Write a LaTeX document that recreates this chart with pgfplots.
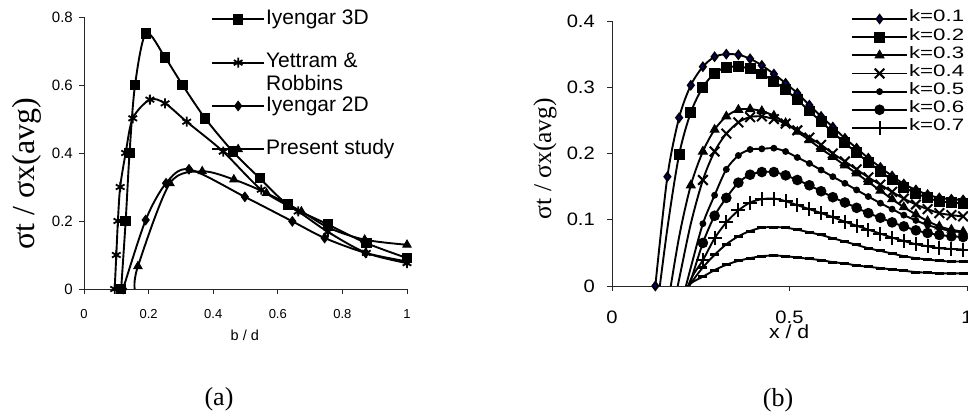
\documentclass[border=0pt]{standalone}
\usepackage{fontspec}
\usepackage{pgfplots}
\pgfplotsset{compat=1.18}
\setmainfont{Liberation Sans}
\newfontfamily\sansw[FakeStretch=1.12]{Liberation Sans}
\newfontfamily\sanswl[FakeStretch=1.35]{Liberation Sans}
\newfontfamily\seriff{Liberation Serif}
\definecolor{navyd}{RGB}{0,0,128}
\pgfplotsset{
  basestyle/.style={
    scale only axis, clip=true,
    axis x line*=bottom, axis y line*=left,
    tick align=outside, major tick length=5pt,
    axis line style={line width=0.8pt, black!85},
    tick style={line width=0.8pt, black!85},
    /pgf/number format/assume math mode=true,
  },
}
\begin{document}
\begin{tikzpicture}[x=1pt,y=1pt]
\useasboundingbox (0,0) rectangle (968,417);
% ---------------- panel (a)
\begin{axis}[basestyle,
  at={(84pt,128pt)}, anchor=south west, width=323pt, height=272pt,
  xmin=0, xmax=1, ymin=0, ymax=0.8,
  xtick={0,0.2,0.4,0.6,0.8,1}, xticklabels={0,0.2,0.4,0.6,0.8,1},
  ytick={0,0.2,0.4,0.6,0.8}, yticklabels={0,0.2,0.4,0.6,0.8},
  xticklabel style={font=\fontsize{13}{13}\selectfont, anchor=center, inner sep=0pt, yshift=-20pt},
  yticklabel style={font=\fontsize{15}{15}\selectfont, anchor=east, inner sep=0pt, xshift=-6pt},
  xlabel={b / d}, xlabel style={font=\fontsize{14.5}{14.5}\selectfont, at={(axis description cs:0.498,-0.169)}, anchor=center, inner sep=0pt},
  ylabel={σt / σx(avg)}, ylabel style={font=\seriff\fontsize{32}{32}\selectfont, at={(axis description cs:-0.176,0.423)}, anchor=center, inner sep=0pt},
  every axis plot/.append style={smooth, black, line width=1.9pt, mark options={solid, fill=black, line width=1pt}},
  legend style={draw=none, fill=none, at={(rel axis cs:0.3932,1.0276)}, anchor=north west, row sep=0pt, inner sep=0pt,
    nodes={inner xsep=1pt, inner ysep=0pt, text height=15pt, text depth=28.3pt, font=\fontsize{21}{23}\selectfont}},
  legend cell align=left,
  legend image code/.code={\draw[#1, mark repeat=2, mark phase=2, yshift=12pt] plot coordinates {(0pt,0pt) (26pt,0pt) (52pt,0pt)};},
]
\addplot[mark=square*, mark size=4.7pt] coordinates {
(0.115,0) (0.129,0.2) (0.141,0.4) (0.158,0.6) (0.192,0.752) (0.251,0.681) (0.305,0.6) (0.375,0.502) (0.461,0.404) (0.544,0.326) (0.632,0.248) (0.755,0.19) (0.874,0.135) (1.0,0.091)};
\addlegendentry{Iyengar 3D}
\addplot[mark=asterisk, mark size=5pt, mark options={line width=1.8pt}] coordinates {
(0.095,0) (0.1,0.1) (0.105,0.2) (0.112,0.3) (0.129,0.4) (0.151,0.502) (0.204,0.557) (0.251,0.546) (0.318,0.492) (0.431,0.404) (0.549,0.292) (0.663,0.228) (0.755,0.168) (0.874,0.106) (1.0,0.076)};
\addlegendentry{\begin{tabular}[t]{@{}l@{}}Yettram \&\\Robbins\end{tabular}}
\addplot[mark=diamond*, mark size=4.7pt] coordinates {
(0.121,0) (0.191,0.203) (0.254,0.311) (0.325,0.352) (0.498,0.271) (0.645,0.199) (0.745,0.15) (0.872,0.106) (1.0,0.081)};
\addlegendentry{Iyengar 2D}
\addplot[mark=triangle*, mark size=4.7pt, mark repeat=1, mark phase=2] coordinates {
(0.157,0) (0.167,0.067) (0.266,0.311) (0.366,0.346) (0.464,0.322) (0.565,0.282) (0.673,0.228) (0.76,0.179) (0.869,0.145) (1.0,0.13)};
\addlegendentry{Present study}
\end{axis}
% ---------------- panel (b)
\begin{axis}[basestyle,
  at={(612pt,131pt)}, anchor=south west, width=355pt, height=265pt,
  xmin=0, xmax=1, ymin=0, ymax=0.4,
  xtick={0,0.5,1}, xticklabels={0,0.5,1},
  ytick={0,0.1,0.2,0.3,0.4}, yticklabels={0,0.1,0.2,0.3,0.4},
  xticklabel style={font=\sansw\fontsize{18}{18}\selectfont, anchor=center, inner sep=0pt, yshift=-26pt},
  yticklabel style={font=\sansw\fontsize{18}{18}\selectfont, anchor=east, inner sep=0pt, xshift=-12pt},
  xlabel={x / d}, xlabel style={font=\sansw\fontsize{19}{19}\selectfont, at={(axis description cs:0.499,-0.174)}, anchor=center, inner sep=0pt},
  ylabel={σt / σx(avg)}, ylabel style={font=\seriff\fontsize{25.5}{25.5}\selectfont, at={(axis description cs:-0.189,0.481)}, anchor=center, inner sep=0pt},
  every axis plot/.append style={smooth, black, line width=1.9pt, mark options={solid, fill=black, line width=1pt}},
  legend style={draw=none, fill=none, at={(rel axis cs:0.673,1.0425)}, anchor=north west, row sep=0pt, inner sep=0pt,
    nodes={inner xsep=1pt, inner ysep=0pt, text height=12pt, text depth=6.15pt, font=\sanswl\fontsize{16.5}{16.5}\selectfont}},
  legend cell align=left,
  legend image code/.code={\draw[#1, mark repeat=2, mark phase=2] plot coordinates {(0pt,0pt) (27.5pt,0pt) (55pt,0pt)};},
]
\addplot[mark=diamond*, mark size=4pt, mark options={fill=navyd, draw=black}] coordinates {
(0.122,0) (0.156,0.165) (0.189,0.254) (0.222,0.303) (0.256,0.331) (0.289,0.346) (0.322,0.350) (0.356,0.349) (0.389,0.343) (0.422,0.333) (0.456,0.320) (0.489,0.306) (0.522,0.291) (0.556,0.273) (0.589,0.256) (0.622,0.240) (0.656,0.223) (0.689,0.208) (0.722,0.193) (0.756,0.179) (0.789,0.166) (0.822,0.154) (0.856,0.145) (0.889,0.138) (0.922,0.133) (0.956,0.131) (0.989,0.130)};
\addlegendentry{k=0.1}
\addplot[mark=square*, mark size=4.9pt, mark repeat=1, mark phase=2] coordinates {
(0.122,-0.054) (0.156,0.087) (0.189,0.198) (0.222,0.262) (0.256,0.300) (0.289,0.321) (0.322,0.330) (0.356,0.331) (0.389,0.328) (0.422,0.320) (0.456,0.309) (0.489,0.296) (0.522,0.281) (0.556,0.264) (0.589,0.248) (0.622,0.232) (0.656,0.216) (0.689,0.201) (0.722,0.187) (0.756,0.173) (0.789,0.160) (0.822,0.149) (0.856,0.140) (0.889,0.133) (0.922,0.128) (0.956,0.126) (0.989,0.125)};
\addlegendentry{k=0.2}
\addplot[mark=triangle*, mark size=5pt, mark repeat=1, mark phase=2] coordinates {
(0.156,-0.032) (0.189,0.074) (0.222,0.152) (0.256,0.203) (0.289,0.236) (0.322,0.256) (0.356,0.266) (0.389,0.267) (0.422,0.264) (0.456,0.257) (0.489,0.246) (0.522,0.233) (0.556,0.220) (0.589,0.207) (0.622,0.195) (0.656,0.182) (0.689,0.170) (0.722,0.157) (0.756,0.144) (0.789,0.131) (0.822,0.119) (0.856,0.108) (0.889,0.098) (0.922,0.090) (0.956,0.085) (0.989,0.082)};
\addlegendentry{k=0.3}
\addplot[mark=x, mark size=6.8pt, mark repeat=1, mark phase=3, mark options={line width=2pt}] coordinates {
(0.156,-0.075) (0.189,0.010) (0.222,0.094) (0.256,0.160) (0.289,0.203) (0.322,0.230) (0.356,0.247) (0.389,0.255) (0.422,0.256) (0.456,0.252) (0.489,0.245) (0.522,0.235) (0.556,0.224) (0.589,0.213) (0.622,0.200) (0.656,0.188) (0.689,0.176) (0.722,0.164) (0.756,0.153) (0.789,0.142) (0.822,0.132) (0.856,0.123) (0.889,0.116) (0.922,0.110) (0.956,0.107) (0.989,0.105)};
\addlegendentry{k=0.4}
\addplot[mark=*, mark size=2.9pt, mark repeat=1, mark phase=2] coordinates {
(0.189,-0.040) (0.222,0.028) (0.256,0.094) (0.289,0.137) (0.322,0.176) (0.356,0.197) (0.389,0.206) (0.422,0.207) (0.456,0.208) (0.489,0.203) (0.522,0.194) (0.556,0.185) (0.589,0.175) (0.622,0.165) (0.656,0.155) (0.689,0.145) (0.722,0.135) (0.756,0.125) (0.789,0.116) (0.822,0.107) (0.856,0.099) (0.889,0.092) (0.922,0.087) (0.956,0.083) (0.989,0.081)};
\addlegendentry{k=0.5}
\addplot[mark=*, mark size=4.8pt, mark repeat=1, mark phase=2] coordinates {
(0.189,-0.050) (0.222,0.008) (0.256,0.065) (0.289,0.106) (0.322,0.133) (0.356,0.156) (0.389,0.168) (0.422,0.172) (0.456,0.172) (0.489,0.167) (0.522,0.160) (0.556,0.152) (0.589,0.143) (0.622,0.134) (0.656,0.126) (0.689,0.118) (0.722,0.110) (0.756,0.103) (0.789,0.096) (0.822,0.090) (0.856,0.084) (0.889,0.080) (0.922,0.077) (0.956,0.075) (0.989,0.074)};
\addlegendentry{k=0.6}
\addplot[mark=+, mark size=7pt, mark repeat=1, mark phase=2, mark options={line width=2pt}] coordinates {
(0.189,-0.040) (0.222,0.010) (0.256,0.039) (0.289,0.072) (0.322,0.096) (0.356,0.114) (0.389,0.126) (0.422,0.131) (0.456,0.132) (0.489,0.128) (0.522,0.122) (0.556,0.116) (0.589,0.110) (0.622,0.104) (0.656,0.097) (0.689,0.091) (0.722,0.085) (0.756,0.079) (0.789,0.073) (0.822,0.068) (0.856,0.063) (0.889,0.060) (0.922,0.057) (0.956,0.056) (0.989,0.055)};
\addlegendentry{k=0.7}
\addplot[forget plot, mark=-, mark size=4.5pt, mark repeat=1, mark phase=2, mark options={line width=3pt}] coordinates {
(0.189,-0.025) (0.222,0.004) (0.256,0.028) (0.289,0.047) (0.322,0.063) (0.356,0.075) (0.389,0.083) (0.422,0.088) (0.456,0.089) (0.489,0.088) (0.522,0.085) (0.556,0.081) (0.589,0.077) (0.622,0.072) (0.656,0.067) (0.689,0.062) (0.722,0.057) (0.756,0.053) (0.789,0.049) (0.822,0.045) (0.856,0.042) (0.889,0.040) (0.922,0.038) (0.956,0.037) (0.989,0.037)};
\addplot[forget plot, mark=-, mark size=4.5pt, mark repeat=1, mark phase=2, mark options={line width=3pt}] coordinates {
(0.189,-0.015) (0.222,0.004) (0.256,0.014) (0.289,0.024) (0.322,0.032) (0.356,0.038) (0.389,0.042) (0.422,0.045) (0.456,0.046) (0.489,0.045) (0.522,0.043) (0.556,0.041) (0.589,0.039) (0.622,0.036) (0.656,0.034) (0.689,0.031) (0.722,0.029) (0.756,0.027) (0.789,0.025) (0.822,0.023) (0.856,0.021) (0.889,0.020) (0.922,0.019) (0.956,0.019) (0.989,0.019)};
\end{axis}
\node[font=\seriff\fontsize{26}{26}\selectfont, inner sep=0pt] at (219,18) {(a)};
\node[font=\seriff\fontsize{26}{26}\selectfont, inner sep=0pt] at (778,17) {(b)};
\end{tikzpicture}
\end{document}
